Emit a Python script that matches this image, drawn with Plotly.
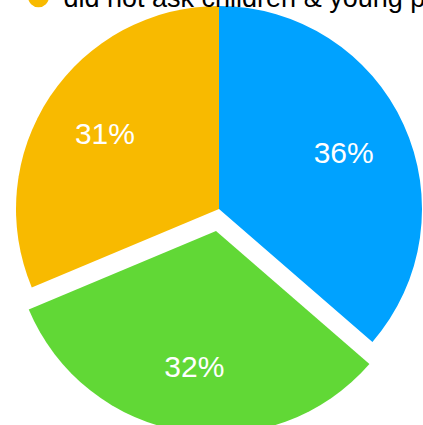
import plotly.graph_objects as go

# ---- data ----
labels = ["asked children & young people", "asked parents & carers", "did not ask children & young people"]
values = [36, 32, 31]
colors = ["#00A2FF", "#61D836", "#F8BA00"]
pulled = [False, True, False]   # the slice drawn out of the pie

# ---- layout geometry (pixels) ----
W, H = 423, 440
R = 203
center_main = (219, 209)
center_pulled = (216, 231)

def domain_for(c):
    cx, cy = c
    return dict(x=[(cx - R) / W, (cx + R) / W],
                y=[1 - (cy + R) / H, 1 - (cy - R) / H])

FONT = "Helvetica Neue, Liberation Sans, Arial, sans-serif"
TRANSPARENT = "rgba(0,0,0,0)"
common = dict(labels=labels, values=values, sort=False, direction="clockwise",
              rotation=0, showlegend=False)

fig = go.Figure()

# coloured slices: main pie (pulled slice hidden) and the pulled slice
for c_center, keep in ((center_main, False), (center_pulled, True)):
    fig.add_trace(go.Pie(
        **common,
        marker=dict(colors=[c if p == keep else TRANSPARENT for c, p in zip(colors, pulled)],
                    line=dict(width=0)),
        textinfo="none", hoverinfo="label+percent",
        domain=domain_for(c_center),
    ))

# percentage labels (transparent ring so the text sits out toward the rim)
for c_center, keep in ((center_main, False), (center_pulled, True)):
    fig.add_trace(go.Pie(
        **common, hole=0.35,
        marker=dict(colors=[TRANSPARENT] * len(values), line=dict(width=0)),
        texttemplate=["%{percent:.0%}" if p == keep else "" for p in pulled],
        textposition="inside", insidetextorientation="horizontal",
        insidetextfont=dict(color="white", size=30, family=FONT),
        hoverinfo="skip",
        domain=domain_for(c_center),
    ))

# legend entries with round markers
for lab, col in zip(labels, colors):
    fig.add_trace(go.Scatter(
        x=[None], y=[None], mode="markers", name=lab,
        marker=dict(symbol="circle", size=16, color=col, line=dict(color=col, width=5)),
    ))

fig.update_layout(
    width=W, height=H,
    margin=dict(l=0, r=0, t=0, b=0, autoexpand=False),
    paper_bgcolor="white", plot_bgcolor="white",
    xaxis=dict(visible=False), yaxis=dict(visible=False),
    showlegend=True,
    legend=dict(x=13.5 / W, xanchor="left", y=1 - 21.5 / H, yanchor="bottom",
                font=dict(size=27, family=FONT, color="black"),
                itemwidth=40, bgcolor="rgba(0,0,0,0)", tracegroupgap=0),
)

fig.write_html("out.html", config={"displayModeBar": False},
               post_script="document.body.style.margin='0';")
